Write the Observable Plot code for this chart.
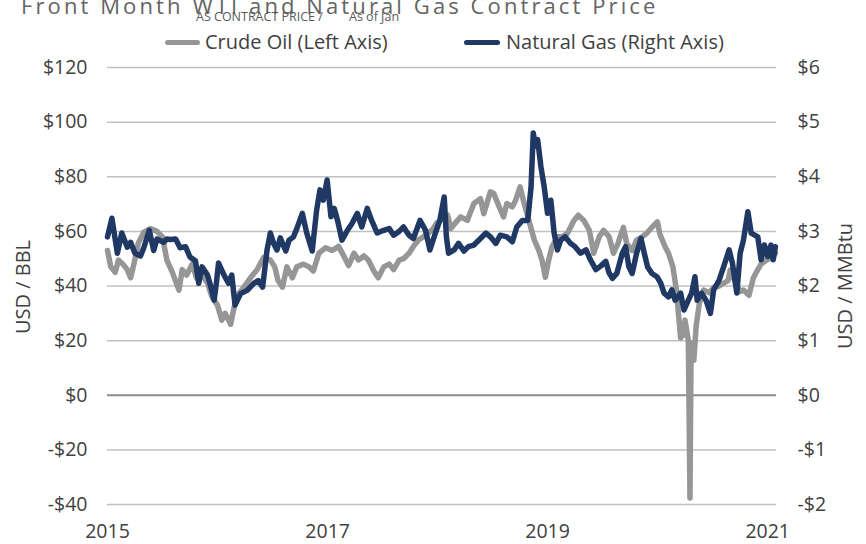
<!DOCTYPE html>
<html>
<head>
<meta charset="utf-8">
<script src="https://cdn.jsdelivr.net/npm/d3@7"></script>
<script src="https://cdn.jsdelivr.net/npm/@observablehq/plot@0.6"></script>
<style>
  body { margin: 0; background: #fff; }
  #wrap { position: relative; width: 866px; height: 544px; overflow: hidden; font-family: "Open Sans", sans-serif; color: #595959; }
  #chart { position: absolute; left: 0; top: 0; }
  #title { position: absolute; left: 21px; top: -6px; font-size: 22px; line-height: 22px; letter-spacing: 3.1px; white-space: nowrap; color: #646464; }
  .note { position: absolute; top: 10px; font-family: "Liberation Sans Narrow", "Open Sans", sans-serif; font-size: 12.5px; line-height: 14px; color: #595959; white-space: nowrap; }
  .sw { position: absolute; height: 5px; border-radius: 3px; }
  .lg { position: absolute; top: 30px; font-size: 20px; line-height: 24px; white-space: nowrap; color: #404040; }
  .ylab { position: absolute; font-size: 20px; line-height: 24px; white-space: nowrap; color: #404040; transform: translate(-50%, -50%) rotate(-90deg); }
</style>
</head>
<body>
<div id="wrap">
  <div id="chart"></div>
  <div id="title">Front Month WTI and Natural Gas Contract Price</div>
  <div class="note" style="left:196px">AS CONTRACT PRICE /</div>
  <div class="note" style="left:349px">As of Jan</div>
  <div class="sw" style="left:165px;top:40px;width:35px;background:#969696"></div>
  <div class="lg" style="left:205px">Crude Oil (Left Axis)</div>
  <div class="sw" style="left:464px;top:40px;width:36px;background:#1f3864"></div>
  <div class="lg" style="left:506px">Natural Gas (Right Axis)</div>
  <div class="ylab" style="left:23px;top:287px">USD / BBL</div>
  <div class="ylab" style="left:845px;top:286px">USD / MMBtu</div>
</div>
<script>
// ---- Data (decimal year, value) ----
const oilYear = [
  2015.00,2015.03,2015.07,2015.10,2015.14,2015.18,2015.21,2015.24,2015.28,2015.33,2015.39,2015.45,2015.50,2015.54,2015.59,2015.65,2015.68,2015.72,2015.77,2015.81,2015.86,2015.91,2015.95,
  2016.00,2016.04,2016.07,2016.12,2016.15,2016.19,2016.24,2016.30,2016.36,2016.42,2016.48,2016.52,2016.55,2016.59,2016.63,2016.68,2016.72,2016.78,2016.83,2016.87,2016.92,2016.98,
  2017.04,2017.10,2017.14,2017.19,2017.24,2017.28,2017.33,2017.37,2017.42,2017.46,2017.51,2017.56,2017.60,2017.65,2017.69,2017.74,2017.78,2017.83,2017.87,2017.92,2017.96,2017.99,
  2018.04,2018.09,2018.12,2018.16,2018.21,2018.27,2018.33,2018.39,2018.42,2018.48,2018.51,2018.56,2018.60,2018.63,2018.68,2018.71,2018.75,2018.78,2018.83,2018.88,2018.92,2018.95,2018.98,
  2019.01,2019.04,2019.09,2019.13,2019.18,2019.24,2019.28,2019.33,2019.38,2019.42,2019.47,2019.51,2019.56,2019.60,2019.64,2019.69,2019.72,2019.77,2019.81,2019.86,2019.90,2019.95,
  2020.00,2020.02,2020.07,2020.10,2020.14,2020.17,2020.19,2020.21,2020.23,2020.25,2020.280,2020.295,2020.305,2020.33,2020.35,2020.38,2020.42,2020.47,2020.51,2020.56,2020.60,2020.64,2020.66,2020.71,2020.75,2020.78,2020.83,2020.87,2020.91,2020.94,2020.99,
  2021.03,2021.07
];
const oilPrice = [
  53,47,45,49.5,48,46,43,48,55.7,59.7,61,60,58,49.5,45,38.5,46,44,48,43,44,41,36,
  33,27.5,30,26,32,37,39.6,43,46,50.5,49.5,47,42,39.6,47,43,47,48,47,45.5,52,54,
  53,54.5,51.5,47.5,52,49.5,51,49.5,45.5,43,47,48,46,49.5,50,52,54.5,57,58,59.5,61,63,
  64.5,66,61,63,65.3,64,70.2,72,66.5,74.5,73.9,69,65.3,70.2,69,71.4,76.3,71.4,64,56.8,53.1,49.4,43.2,
  49.4,54.3,58,58,59.2,64,65.9,64,60.4,52,58,60.4,58,52,55.5,61.5,55.5,53,56.8,58,59.2,61.5,
  63.5,59.2,54.3,52,47,39,30,21,22,27.5,20,-37.6,19,12.8,25,33.7,38.5,37.5,39.5,40,41,42,45.8,41,38,38.5,36.6,43,46,48,49.5,
  50.5,52
];
const gasYear = [
  2015.00,2015.04,2015.09,2015.13,2015.18,2015.21,2015.25,2015.30,2015.33,2015.38,2015.42,2015.45,2015.51,2015.54,2015.57,2015.62,2015.66,2015.71,2015.75,2015.80,2015.83,2015.86,2015.91,2015.94,2015.97,2015.99,
  2016.01,2016.06,2016.10,2016.13,2016.16,2016.21,2016.27,2016.33,2016.37,2016.41,2016.45,2016.48,2016.51,2016.54,2016.57,2016.62,2016.65,2016.69,2016.72,2016.77,2016.81,2016.86,2016.90,2016.93,2016.96,2016.995,
  2017.03,2017.06,2017.09,2017.13,2017.18,2017.22,2017.27,2017.31,2017.36,2017.40,2017.45,2017.51,2017.56,2017.60,2017.65,2017.69,2017.74,2017.78,2017.84,2017.89,2017.93,2017.98,
  2018.02,2018.06,2018.08,2018.10,2018.15,2018.19,2018.24,2018.28,2018.33,2018.39,2018.44,2018.48,2018.53,2018.57,2018.63,2018.68,2018.72,2018.77,2018.82,2018.85,2018.87,2018.89,2018.91,2018.94,2018.97,
  2019.00,2019.03,2019.06,2019.09,2019.12,2019.16,2019.21,2019.25,2019.30,2019.35,2019.39,2019.44,2019.48,2019.53,2019.56,2019.59,2019.63,2019.68,2019.71,2019.74,2019.77,2019.81,2019.85,2019.88,2019.91,2019.95,2019.995,
  2020.03,2020.06,2020.10,2020.13,2020.16,2020.21,2020.24,2020.28,2020.31,2020.34,2020.36,2020.40,2020.44,2020.48,2020.51,2020.56,2020.60,2020.65,2020.68,2020.72,2020.75,2020.78,2020.82,2020.85,2020.91,2020.94,2020.97,
  2021.00,2021.03,2021.05,2021.07
];
const gasPrice = [
  2.9,3.24,2.6,2.97,2.71,2.8,2.6,2.55,2.7,3.02,2.65,2.86,2.8,2.86,2.85,2.86,2.7,2.72,2.53,2.46,2.05,2.35,2.2,1.98,1.74,2.05,
  2.42,2.2,2.05,2.2,1.65,1.86,1.92,2.05,2.1,1.98,2.66,2.97,2.78,2.66,2.88,2.64,2.84,2.9,3.05,3.33,2.97,2.64,3.39,3.76,3.57,3.94,
  3.27,3.42,3.2,2.84,3.02,3.14,3.33,3.08,3.42,3.2,2.97,3.02,3.05,2.93,3.0,3.08,2.93,2.87,3.2,3.02,2.66,2.97,
  3.2,3.63,2.9,2.6,2.66,2.78,2.64,2.72,2.75,2.87,2.97,2.9,2.78,2.93,2.9,2.81,3.08,3.2,3.2,3.81,4.8,4.56,4.68,4.18,3.81,
  3.33,3.57,2.97,2.66,2.84,2.9,2.78,2.72,2.6,2.66,2.48,2.3,2.36,2.45,2.24,2.14,2.23,2.6,2.72,2.35,2.23,2.6,2.87,2.6,2.35,2.23,2.17,
  2.05,1.87,1.8,1.93,1.74,1.87,1.56,1.74,1.87,2.17,1.74,1.87,1.74,1.5,1.93,2.11,2.35,2.66,2.42,1.87,2.6,2.84,3.36,2.97,2.9,2.48,2.75,
  2.54,2.75,2.48,2.72
];
const oilTicks = [-40, -20, 0, 20, 40, 60, 80, 100, 120];
const gasTicks = [-2, -1, 0, 1, 2, 3, 4, 5, 6];
const yearTicks = [2015, 2017, 2019, 2021];
const gasToOil = 20; // right axis $1 = left axis $20

const toDate = y => {
  const yr = Math.floor(y);
  const s = Date.UTC(yr, 0, 1), e = Date.UTC(yr + 1, 0, 1);
  return new Date(s + (y - yr) * (e - s));
};
const oil = oilYear.map((y, i) => ({date: toDate(y), v: oilPrice[i]}));
const gas = gasYear.map((y, i) => ({date: toDate(y), v: gasPrice[i]}));
const money = v => (v < 0 ? "-$" : "$") + Math.abs(v);

const chart = Plot.plot({
  width: 866,
  height: 544,
  marginTop: 67,
  marginBottom: 40,
  marginLeft: 107,
  marginRight: 90,
  style: {fontFamily: "Open Sans, sans-serif", fontSize: "19.5px", color: "#404040", background: "#fff"},
  x: {type: "utc", domain: [toDate(2015), toDate(2021.08)]},
  y: {domain: [-40, 120]},
  marks: [
    Plot.ruleY(oilTicks.filter(d => d !== 0), {stroke: "#c0c0c0", strokeWidth: 1.5}),
    Plot.ruleY([0], {stroke: "#8c8c8c", strokeWidth: 2}),
    Plot.line(oil, {x: "date", y: "v", stroke: "#969696", strokeWidth: 5.5, strokeLinejoin: "round", strokeLinecap: "round"}),
    Plot.line(gas, {x: "date", y: d => d.v * gasToOil, stroke: "#1f3864", strokeWidth: 5.5, strokeLinejoin: "round", strokeLinecap: "round"}),
    Plot.axisY({anchor: "left", ticks: oilTicks, tickSize: 0, tickPadding: 20, tickFormat: money, label: null}),
    Plot.axisY({anchor: "right", ticks: gasTicks.map(g => g * gasToOil), tickSize: 0, tickPadding: 21, tickFormat: d => money(d / gasToOil), label: null}),
    Plot.axisX({ticks: yearTicks.map(y => toDate(y)), tickSize: 0, tickPadding: 20, tickFormat: d3.utcFormat("%Y"), label: null})
  ]
});
document.getElementById("chart").appendChild(chart);
</script>
</body>
</html>
